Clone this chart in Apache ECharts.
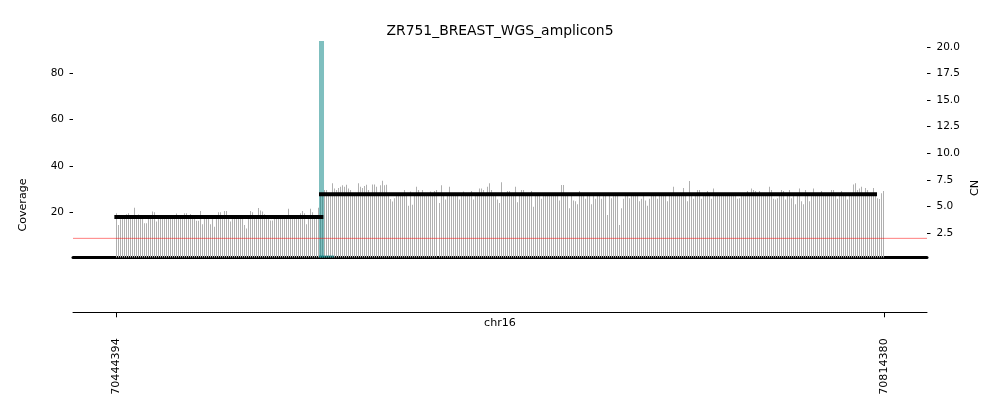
<!DOCTYPE html>
<html>
<head>
<meta charset="utf-8">
<title>ZR751_BREAST_WGS_amplicon5</title>
<script src="https://cdn.jsdelivr.net/npm/echarts@6/dist/echarts.min.js"></script>
<style>
  html, body {margin: 0; padding: 0; background: #fff;}
  #chart {width: 1000px; height: 416px;}
</style>
</head>
<body>
<div id="chart"></div>
<script>
const chartTitle = 'ZR751_BREAST_WGS_amplicon5';
const chromName = 'chr16';

// coverage bins, one every binSize bp from binStart
const binStart = 70444394;
const binSize = 965;
const coverage = [
  19.6, 14.5, 17.0, 17.4, 17.8, 19.2, 19.6, 17.6, 17.6, 22.0, 17.5, 19.0, 17.3, 17.6, 15.3, 15.3,
  17.4, 17.8, 20.3, 20.0, 16.0, 17.5, 17.9, 17.3, 18.1, 17.6, 17.4, 18.0, 17.7, 17.2, 19.5, 17.8,
  17.5, 18.2, 19.6, 19.6, 17.4, 19.3, 17.9, 17.6, 16.3, 16.3, 20.6, 14.8, 17.5, 17.8, 17.4, 14.8,
  17.6, 13.8, 17.5, 20.0, 20.0, 17.8, 20.5, 20.5, 17.4, 16.0, 17.7, 17.3, 18.0, 17.5, 17.8, 17.4,
  14.5, 13.0, 17.6, 20.6, 20.0, 17.5, 17.9, 21.8, 20.8, 20.3, 19.2, 17.6, 17.6, 16.5, 16.5, 17.8,
  17.4, 17.9, 17.5, 18.1, 17.6, 17.3, 21.5, 17.8, 17.5, 17.9, 17.4, 17.7, 19.6, 20.6, 19.6, 14.8,
  17.6, 21.5, 20.0, 17.8, 17.4, 22.0,
  28.0, 28.0, 29.6, 29.6, 27.8, 28.1, 32.5, 30.3, 29.6, 30.5,
  31.0, 31.6, 31.0, 31.9, 30.3, 29.6, 27.8, 28.2, 27.6, 32.5, 31.0, 30.5, 31.3, 31.9, 29.6, 27.9,
  32.0, 32.0, 31.0, 28.0, 31.6, 33.6, 31.6, 31.9, 27.7, 25.7, 24.6, 26.0, 28.1, 27.8, 27.5, 28.2,
  29.6, 27.7, 22.8, 29.0, 23.2, 27.9, 31.0, 29.6, 27.8, 29.6, 28.1, 27.6, 27.9, 29.0, 28.2, 29.2,
  29.6, 24.0, 31.6, 27.8, 25.5, 28.0, 31.0, 27.7, 28.2, 27.9, 27.6, 25.5, 28.0, 29.0, 27.8, 28.1,
  27.7, 29.2, 25.5, 28.0, 27.8, 30.3, 30.3, 29.6, 28.1, 31.0, 32.5, 29.6, 27.9, 27.6, 25.5, 24.0,
  33.0, 28.0, 27.8, 29.2, 29.2, 28.1, 27.7, 31.0, 24.3, 27.9, 29.6, 29.6, 28.0, 27.6, 28.2, 29.2,
  22.4, 27.8, 28.1, 27.7, 25.8, 28.0, 27.9, 28.2, 27.6, 28.0, 27.8, 28.1, 27.7, 25.1, 31.8, 31.8,
  28.0, 27.7, 21.7, 28.1, 25.1, 24.8, 23.5, 29.2, 27.9, 27.6, 25.8, 28.0, 27.8, 23.5, 28.2, 25.8,
  27.9, 27.7, 25.8, 28.0, 27.8, 18.8, 28.1, 26.0, 27.6, 27.9, 28.2, 14.5, 21.7, 25.8, 27.8, 28.0,
  26.0, 27.7, 28.1, 27.9, 27.6, 24.8, 25.8, 28.0, 25.1, 22.8, 25.8, 27.8, 28.2, 27.7, 25.8, 28.0,
  27.9, 27.6, 28.1, 24.8, 27.8, 28.0, 31.0, 27.7, 28.2, 27.9, 27.6, 30.5, 28.0, 24.8, 33.5, 27.8,
  25.8, 28.1, 29.6, 29.6, 25.8, 27.9, 28.0, 29.2, 27.7, 25.8, 30.3, 28.1, 27.8, 27.6, 28.0, 28.2,
  27.9, 27.7, 28.1, 27.8, 28.0, 27.6, 25.8, 26.0, 28.2, 27.9, 27.7, 29.2, 28.0, 30.3, 29.6, 29.2,
  27.8, 29.2, 28.0, 27.7, 28.1, 27.9, 31.0, 29.6, 25.8, 25.5, 26.0, 27.8, 29.6, 29.2, 25.5, 28.0,
  29.6, 26.0, 27.9, 23.5, 28.1, 30.3, 24.8, 23.5, 29.6, 27.8, 24.8, 28.0, 30.3, 27.7, 28.2, 27.9,
  29.2, 28.0, 27.6, 28.1, 27.8, 29.6, 29.6, 27.9, 25.8, 28.0, 29.2, 27.7, 28.1, 25.5, 27.8, 28.0,
  32.0, 32.5, 29.6, 30.3, 31.0, 28.0, 30.5, 29.6, 27.8, 28.1, 30.5, 27.9, 26.0, 25.7, 28.2, 29.2
];

// copy number segments: [start, end, CN]
const cnSegments = [
  [70443600, 70544300, 4.0],
  [70542200, 70811000, 6.14]
];
// amplicon interval: [start, end, coverage]  (runs off the top)
const amplicon = [70542190, 70544600, 150];
const ampliconBase = [70542190, 70549400];
const baselineCN = 2.0;

const xRange = [70423679, 70835093];
const xTicks = [70444394, 70814380];
const covTicks = [20, 40, 60, 80];
const cnTicks = [2.5, 5, 7.5, 10, 12.5, 15, 17.5, 20];

const font = 'DejaVu Sans';
const covData = coverage.map((v, i) => [binStart + i * binSize, v]);

let option = {
  animation: false,
  title: {
    text: chartTitle,
    left: 'center',
    top: 19,
    textStyle: {fontFamily: font, fontSize: 13.9, fontWeight: 'normal', color: '#000'}
  },
  graphic: [
    {type: 'text', x: 23, y: 205, rotation: Math.PI / 2,
      style: {text: 'Coverage', fontFamily: font, fontSize: 11.1, fill: '#000', align: 'center', verticalAlign: 'middle'}},
    {type: 'text', x: 975, y: 188, rotation: Math.PI / 2,
      style: {text: 'CN', fontFamily: font, fontSize: 11.1, fill: '#000', align: 'center', verticalAlign: 'middle'}},
    {type: 'text', x: 500, y: 323,
      style: {text: chromName, fontFamily: font, fontSize: 11.1, fill: '#000', align: 'center', verticalAlign: 'middle'}}
  ],
  grid: [
    {left: 73, right: 73, top: 41, bottom: 158.5},
    {left: 73, right: 73, top: 270, bottom: 103.7}
  ],
  xAxis: [
    {
      type: 'value', gridIndex: 0, min: xRange[0], max: xRange[1],
      axisLine: {show: true, lineStyle: {color: '#000', width: 3}},
      axisTick: {show: false},
      axisLabel: {show: false},
      splitLine: {show: false}
    },
    {
      type: 'value', gridIndex: 1, min: xRange[0], max: xRange[1],
      axisLine: {show: true, lineStyle: {color: '#000', width: 1}},
      axisTick: {show: true, length: 5, customValues: xTicks, lineStyle: {color: '#000'}},
      axisLabel: {
        customValues: xTicks, rotate: 90, margin: 26,
        fontFamily: font, fontSize: 11.1, color: '#000',
        formatter: v => String(v)
      },
      splitLine: {show: false}
    }
  ],
  yAxis: [
    {
      type: 'value', gridIndex: 0, position: 'left', min: 0.5, max: 93.85,
      axisLine: {show: false},
      axisTick: {show: true, length: 3.5, customValues: covTicks, lineStyle: {color: '#000'}},
      axisLabel: {customValues: covTicks, margin: 9, fontFamily: font, fontSize: 10.5, color: '#000'},
      splitLine: {show: false}
    },
    {
      type: 'value', gridIndex: 0, position: 'right', min: 0.2, max: 20.55,
      axisLine: {show: false},
      axisTick: {show: true, length: 3.5, customValues: cnTicks, lineStyle: {color: '#000'}},
      axisLabel: {
        customValues: cnTicks, margin: 9.5, fontFamily: font, fontSize: 10.5, color: '#000',
        formatter: v => v.toFixed(1)
      },
      splitLine: {show: false}
    },
    {type: 'value', gridIndex: 1, show: false, min: 0, max: 1}
  ],
  series: [
    {
      // thin coverage bars, snapped to whole pixels so they stay crisp
      name: 'coverage', type: 'custom', xAxisIndex: 0, yAxisIndex: 0,
      data: covData,
      renderItem: function (params, api) {
        let base = api.coord([api.value(0), 0.5]);
        let top = api.coord([api.value(0), api.value(1)]);
        let x = Math.round(base[0]);
        return {
          type: 'rect',
          shape: {x: x, y: top[1], width: 1, height: base[1] - top[1]},
          style: {fill: '#b0b0b0'}
        };
      }
    },
    {
      name: 'baseline', type: 'line', xAxisIndex: 0, yAxisIndex: 1,
      data: [[xRange[0], baselineCN], [xRange[1], baselineCN]],
      symbol: 'none', lineStyle: {color: 'rgba(255,0,0,0.5)', width: 1}
    },
    {
      name: 'cn', type: 'line', xAxisIndex: 0, yAxisIndex: 1,
      data: [
        [cnSegments[0][0], cnSegments[0][2]], [cnSegments[0][1], cnSegments[0][2]], null,
        [cnSegments[1][0], cnSegments[1][2]], [cnSegments[1][1], cnSegments[1][2]]
      ],
      connectNulls: false, symbol: 'none',
      lineStyle: {color: '#000', width: 4, cap: 'butt'}
    },
    {
      name: 'amplicon', type: 'custom', xAxisIndex: 0, yAxisIndex: 0,
      data: [amplicon],
      renderItem: function (params, api) {
        let p0 = api.coord([api.value(0), 0.5]);
        let p1 = api.coord([api.value(1), api.value(2)]);
        let top = Math.max(p1[1], params.coordSys.y);
        return {
          type: 'rect',
          shape: {x: p0[0], y: top, width: p1[0] - p0[0], height: p0[1] - top},
          style: {fill: 'rgba(0,128,128,0.5)'}
        };
      }
    },
    {
      name: 'ampliconBase', type: 'line', xAxisIndex: 0, yAxisIndex: 0,
      data: [[ampliconBase[0], 0.9], [ampliconBase[1], 0.9]],
      symbol: 'none', lineStyle: {color: 'rgba(0,128,128,0.6)', width: 2}
    }
  ]
};

let chart = echarts.init(document.getElementById('chart'), null, {width: 1000, height: 416});
chart.setOption(option);
</script>
</body>
</html>
